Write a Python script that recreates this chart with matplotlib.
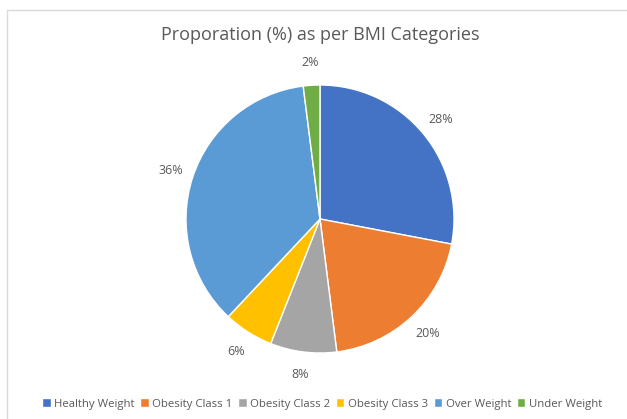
import matplotlib.pyplot as plt
from matplotlib.patches import Rectangle

categories = ['Healthy Weight', 'Obesity Class 1', 'Obesity Class 2',
              'Obesity Class 3', 'Over Weight', 'Under Weight']
shares = [28, 20, 8, 6, 36, 2]
colors = ['#4472C4', '#ED7D31', '#A5A5A5', '#FFC000', '#5B9BD5', '#70AD47']

plt.rcParams['font.family'] = ['Open Sans', 'DejaVu Sans']
grey = '#595959'

fig = plt.figure(figsize=(6.27, 4.19), dpi=100)
fig.patches.append(Rectangle((7 / 627, -0.01), 1.1, 1 - 10 / 419 + 0.01,
                             transform=fig.transFigure, fill=False,
                             edgecolor='#d9d9d9', linewidth=1))

ax = fig.add_axes([186 / 627, 66 / 419, 268 / 627, 268 / 419])
wedges, texts, autotexts = ax.pie(
    shares, colors=colors, startangle=90, counterclock=False,
    autopct='%d%%', pctdistance=1.17, radius=1,
    wedgeprops=dict(edgecolor='white', linewidth=1))
for t in autotexts:
    t.set_color(grey)
    t.set_fontsize(9)
ax.set_xlim(-1, 1)
ax.set_ylim(-1, 1)
ax.set_aspect('equal')

fig.text(320 / 627, 1 - 35 / 419, 'Proporation (%) as per BMI Categories',
         ha='center', va='center', fontsize=13, color=grey)

fig.legend(wedges, categories, loc='center', bbox_to_anchor=(322 / 627, 1 - 404 / 419),
           ncol=6, frameon=False, fontsize=8.2, labelcolor=grey,
           handlelength=0.75, handleheight=0.75, handletextpad=0.3, columnspacing=0.5)

plt.savefig('out.png', dpi=100)
